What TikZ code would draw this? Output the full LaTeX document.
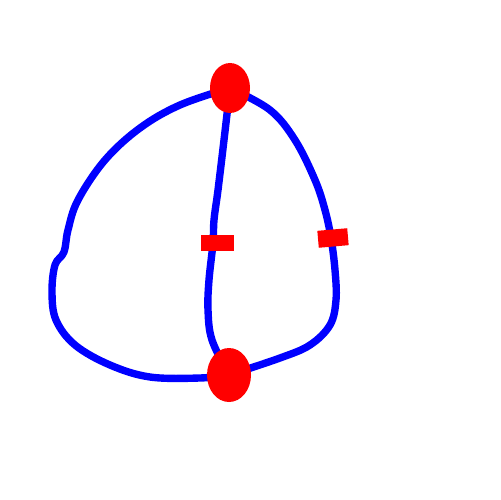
\documentclass[tikz,border=0pt]{standalone}
\usetikzlibrary{shapes.geometric, backgrounds}

\tikzset{
  vertex/.style={ellipse, fill=red, inner sep=0pt},
  edgemark/.style={rectangle, fill=red, inner sep=0pt},
  wire/.style={draw=blue, line width=4.2pt, line join=round, line cap=round}
}

\begin{document}
\begin{tikzpicture}[x=0.02cm, y=-0.02cm]
  \useasboundingbox (0,0) rectangle (500,500);

  % vertices
  \node[vertex, minimum width=40*0.02cm, minimum height=50*0.02cm] (top) at (230,88) {};
  \node[vertex, minimum width=44*0.02cm, minimum height=54*0.02cm] (bot) at (229,375) {};

  % markers on the edges
  \node[edgemark, minimum width=33*0.02cm, minimum height=16*0.02cm] (midmark) at (217.5,243) {};
  \node[edgemark, minimum width=30*0.02cm, minimum height=17*0.02cm, rotate=5] (rightmark) at (333,238) {};

  \begin{scope}[on background layer]
    % left loop
    \draw[wire] plot[smooth, tension=0.6] coordinates {
      (top) (180,105) (140,128) (105,160) (78,200) (68,230) (64,252)
      (55,265) (52,292) (56,320) (75,345) (110,365) (150,377) (200,378) (bot)};
    % middle edge
    \draw[wire] plot[smooth, tension=0.6] coordinates {
      (top) (224,140) (218,190) (214,220) (213,243) (209,280) (208,310)
      (212,340) (bot)};
    % right edge
    \draw[wire] plot[smooth, tension=0.6] coordinates {
      (top) (270,110) (295,140) (315,180) (325,210) (331,238) (335,270)
      (336,300) (330,325) (310,345) (280,358) (bot)};
  \end{scope}
\end{tikzpicture}
\end{document}
